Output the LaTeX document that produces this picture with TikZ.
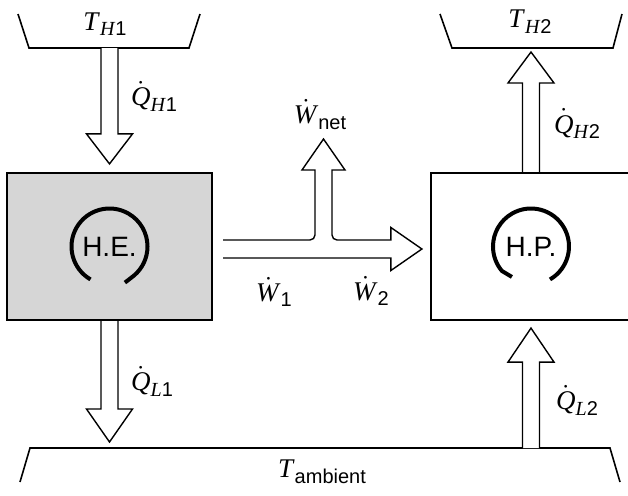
\documentclass[tikz,border=0pt]{standalone}
\usepackage{fontspec}
\setmainfont{Liberation Serif}
\setsansfont{Liberation Sans}
\usetikzlibrary{positioning, calc}
\tikzset{
  % --- reservoirs and cycle devices ---
  reservoir/.style={line width=0.8pt},
  device/.style={draw, line width=1.1pt, minimum width=#1,
    minimum height=73.5pt, inner sep=0pt},
  cyclelbl/.style={font=\sffamily\fontsize{14}{16}\selectfont, inner sep=0pt},
  cyclearc/.style={line width=2pt},
  % --- hollow flow arrows ---
  flow/.style={draw, fill=white, line width=0.7pt, line join=miter},
  lbl/.style={font=\fontsize{13.5}{15}\selectfont, inner sep=0pt},
}
\newcommand\lowsub[1]{\raisebox{-0.45ex}{\fontsize{10}{12}\selectfont#1}}
\newcommand\rate[1]{$\dot{\mbox{\textit{#1}}}$}
% vertical hollow arrow: from, to, head length
\newcommand\flowarrow[3]{%
  \draw[flow] let \p1=(#1), \p2=(#2), \n1={sign(\y2-\y1)*#3} in
    ({\x1-4.25pt},\y1) -- ({\x1-4.25pt},{\y2-\n1}) -- ({\x1-11.5pt},{\y2-\n1})
    -- (\x1,\y2) -- ({\x1+11.5pt},{\y2-\n1}) -- ({\x1+4.25pt},{\y2-\n1})
    -- ({\x1+4.25pt},\y1);}

\begin{document}
\begin{tikzpicture}[x=0.5pt, y=0.5pt]
    \clip (0,0) rectangle (628,495);
    % reservoirs
    \coordinate (rh1) at (109.5,447);
    \coordinate (rh2) at (531,447);
    \coordinate (ra1) at (109.5,47);
    \coordinate (ra2) at (531,47);
    \draw[reservoir] (18,481) -- (29,447) -- (189,447) -- (200,481);
    \draw[reservoir] (440,481) -- (452,447) -- (613,447) -- (622,481);
    \draw[reservoir] (20,13) -- (30,47) -- (610,47) -- (620,13);
    \node[lbl] (th1) at (105,471) {\textit{T}\lowsub{\textit{H}\textsf{1}}};
    \node[lbl] (th2) at (530,473.5) {\textit{T}\lowsub{\textit{H}\textsf{2}}};
    \node[lbl] (tamb) at (322,23) {\textit{T}\lowsub{\textsf{ambient}}};
    % heat engine and heat pump
    \node[device=102.5pt, fill=black!16] (he) at (109.5,248.5) {};
    \node[device=100pt] (hp) at (531,248.5) {};
    \node[cyclelbl] (helbl) at (he) {H.E.};
    \node[cyclelbl] (hplbl) at (hp) {H.P.};
    \draw[cyclearc] ($(he)+(240:38)$) arc[start angle=240, end angle=-50, radius=38]
      -- ++(-9,-7);
    \draw[cyclearc] ($(hp)+(-60:38)$) arc[start angle=-60, end angle=220, radius=38]
      -- ++(10,-6);
    % heat flows
    \flowarrow{rh1}{$(he.north)+(0,8)$}{15pt}
    \flowarrow{hp.north}{$(rh2)+(0,-4)$}{15.5pt}
    \flowarrow{he.south}{$(ra1)+(0,6)$}{16.5pt}
    \flowarrow{ra2}{$(hp.south)+(0,-7)$}{17pt}
    % work flow
    \coordinate (wtip) at (323.5,356);
    \draw[flow] let \p1=($(he.east)+(5pt,-1.25pt)$), \p2=($(hp.west)+(-4pt,-1.25pt)$),
        \p3=(wtip) in
      (\x1,{\y1-4.5pt}) -- ({\x2-15.5pt},{\y1-4.5pt}) -- ({\x2-15.5pt},{\y1-10.75pt})
      -- (\x2,\y1) -- ({\x2-15.5pt},{\y1+10.75pt}) -- ({\x2-15.5pt},{\y1+4.5pt})
      -- ({\x3+6.75pt},{\y1+4.5pt}) arc[start angle=270, end angle=180, radius=2.5pt]
      -- ({\x3+4.25pt},{\y3-15.5pt}) -- ({\x3+10.75pt},{\y3-15.5pt}) -- (\x3,\y3)
      -- ({\x3-10.75pt},{\y3-15.5pt}) -- ({\x3-4.25pt},{\y3-15.5pt})
      -- ({\x3-4.25pt},{\y1+7pt}) arc[start angle=0, end angle=-90, radius=2.5pt]
      -- (\x1,{\y1+4.5pt});
    % labels
    \node[lbl] (qh1) at (154,399) {\rate{Q}\lowsub{\textit{H}\textsf{1}}};
    \node[lbl] (qh2) at (577,371.5) {\rate{Q}\lowsub{\textit{H}\textsf{2}}};
    \node[lbl] (ql1) at (152,114) {\rate{Q}\lowsub{\textit{L}\textsf{1}}};
    \node[lbl] (ql2) at (577,95) {\rate{Q}\lowsub{\textit{L}\textsf{2}}};
    \node[lbl] (w1) at (274,203) {\rate{W}\lowsub{\textsf{1}}};
    \node[lbl] (w2) at (371,204) {\rate{W}\lowsub{\textsf{2}}};
    \node[lbl, above=4.5pt of wtip, xshift=-1.75pt] (wnet) {\rate{W}\lowsub{\textsf{net}}};
\end{tikzpicture}
\end{document}
